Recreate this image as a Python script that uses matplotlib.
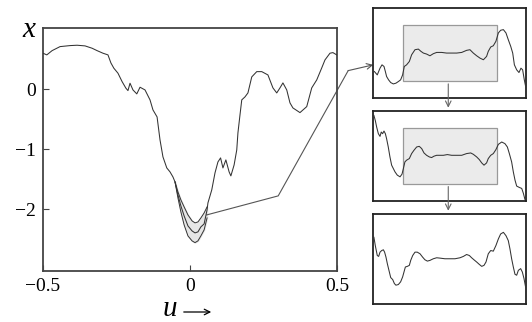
import numpy as np
import matplotlib.pyplot as plt
from matplotlib.patches import Rectangle

plt.rcParams['font.family'] = ['Liberation Serif', 'DejaVu Serif']
plt.rcParams['mathtext.fontset'] = 'stix'

# 主曲线 (u, x)
u_main = [-0.500, -0.487, -0.469, -0.442, -0.408, -0.384, -0.357, -0.333, -0.316, -0.296,
          -0.279, -0.269, -0.259, -0.245, -0.231, -0.218, -0.211, -0.204, -0.194, -0.181,
          -0.170, -0.153, -0.136, -0.126, -0.112, -0.102, -0.092, -0.079, -0.068, -0.058,
          -0.051, -0.041, -0.031, -0.020, -0.007, 0.007, 0.017, 0.027, 0.037, 0.048, 0.058,
          0.061, 0.074, 0.085, 0.095, 0.104, 0.112, 0.122, 0.133, 0.139, 0.150,
          0.159, 0.163, 0.170, 0.176, 0.187, 0.197, 0.210, 0.227, 0.244, 0.265,
          0.282, 0.295, 0.306, 0.316, 0.329, 0.340, 0.350, 0.374, 0.397, 0.414,
          0.431, 0.448, 0.459, 0.476, 0.486, 0.499]
x_main = [0.600, 0.572, 0.643, 0.710, 0.727, 0.733, 0.722, 0.683, 0.643, 0.600,
          0.572, 0.438, 0.350, 0.267, 0.127, 0.017, -0.023, 0.100, -0.012, -0.078,
          0.033, -0.012, -0.178, -0.345, -0.462, -0.845, -1.128, -1.312, -1.378, -1.462,
          -1.545, -1.762, -1.945, -2.112, -2.278, -2.362, -2.395, -2.378, -2.295, -2.245, -2.012,
          -1.895, -1.678, -1.395, -1.212, -1.145, -1.312, -1.178, -1.378, -1.445, -1.262,
          -1.012, -0.728, -0.428, -0.178, -0.128, -0.062, 0.205, 0.293, 0.293, 0.238,
          0.022, -0.062, 0.022, 0.105, -0.012, -0.228, -0.312, -0.390, -0.290, 0.022,
          0.155, 0.355, 0.488, 0.600, 0.610, 0.572]

# 极小值附近的阴影带
u_band = [-0.051, -0.041, -0.031, -0.020, -0.007, 0.007, 0.017, 0.027, 0.037, 0.048, 0.058]
band_hi = [-1.545, -1.712, -1.845, -1.962, -2.095, -2.195, -2.228, -2.212, -2.145, -2.062, -1.962]
band_lo = [-1.545, -1.812, -2.045, -2.262, -2.445, -2.528, -2.557, -2.528, -2.445, -2.345, -2.145]

# 三个放大图 (归一化坐标)
s1 = [0.007, 0.026, 0.044, 0.057, 0.070, 0.079, 0.087, 0.100, 0.114, 0.131, 0.148, 0.164,
      0.179, 0.192, 0.203, 0.218, 0.236, 0.251, 0.273, 0.295, 0.312, 0.328, 0.349, 0.371,
      0.393, 0.415, 0.448, 0.480, 0.513, 0.546, 0.579, 0.611, 0.633, 0.655, 0.677, 0.699,
      0.721, 0.742, 0.753, 0.769, 0.786, 0.803, 0.819, 0.834, 0.852, 0.869, 0.884, 0.900,
      0.913, 0.924, 0.939, 0.954, 0.967, 0.978, 0.989, 1.000]
v1 = [0.296, 0.259, 0.333, 0.370, 0.352, 0.296, 0.241, 0.204, 0.174, 0.159, 0.167, 0.185,
      0.204, 0.259, 0.352, 0.370, 0.407, 0.481, 0.537, 0.544, 0.519, 0.500, 0.489, 0.470,
      0.493, 0.507, 0.507, 0.500, 0.500, 0.500, 0.507, 0.530, 0.537, 0.500, 0.470, 0.444,
      0.426, 0.463, 0.519, 0.567, 0.581, 0.630, 0.722, 0.752, 0.759, 0.722, 0.648, 0.574,
      0.500, 0.370, 0.315, 0.285, 0.333, 0.315, 0.204, 0.111]

s2 = [0.004, 0.013, 0.022, 0.033, 0.044, 0.052, 0.061, 0.070, 0.079, 0.087, 0.098, 0.109,
      0.120, 0.131, 0.142, 0.157, 0.175, 0.188, 0.197, 0.207, 0.218, 0.236, 0.251, 0.266,
      0.284, 0.301, 0.317, 0.332, 0.349, 0.367, 0.382, 0.397, 0.415, 0.437, 0.459, 0.485,
      0.513, 0.546, 0.579, 0.611, 0.638, 0.655, 0.677, 0.694, 0.710, 0.725, 0.742, 0.753,
      0.769, 0.786, 0.803, 0.819, 0.841, 0.862, 0.878, 0.891, 0.906, 0.917, 0.928, 0.939,
      0.956, 0.972, 0.983, 0.993]
v2 = [0.945, 0.890, 0.817, 0.744, 0.714, 0.762, 0.744, 0.773, 0.744, 0.689, 0.597, 0.487,
      0.396, 0.359, 0.322, 0.286, 0.267, 0.297, 0.359, 0.432, 0.451, 0.469, 0.524, 0.560,
      0.597, 0.604, 0.579, 0.531, 0.505, 0.487, 0.480, 0.495, 0.505, 0.505, 0.505, 0.513,
      0.505, 0.505, 0.505, 0.524, 0.531, 0.516, 0.487, 0.458, 0.421, 0.396, 0.421, 0.469,
      0.505, 0.524, 0.568, 0.626, 0.652, 0.634, 0.597, 0.524, 0.432, 0.322, 0.231, 0.165,
      0.150, 0.139, 0.084, 0.018]

s3 = [0.004, 0.013, 0.026, 0.035, 0.044, 0.055, 0.066, 0.074, 0.083, 0.092, 0.105, 0.114,
      0.127, 0.138, 0.148, 0.164, 0.179, 0.192, 0.201, 0.210, 0.223, 0.236, 0.245, 0.258,
      0.273, 0.288, 0.306, 0.323, 0.338, 0.354, 0.371, 0.393, 0.415, 0.437, 0.469, 0.502,
      0.535, 0.568, 0.590, 0.611, 0.629, 0.644, 0.659, 0.677, 0.694, 0.710, 0.725, 0.738,
      0.753, 0.769, 0.786, 0.803, 0.819, 0.834, 0.852, 0.869, 0.884, 0.895, 0.906, 0.917,
      0.928, 0.939, 0.950, 0.965, 0.976, 0.987, 0.998]
v3 = [0.737, 0.646, 0.536, 0.526, 0.573, 0.591, 0.599, 0.573, 0.518, 0.445, 0.354, 0.292,
      0.270, 0.226, 0.208, 0.215, 0.245, 0.299, 0.354, 0.409, 0.416, 0.427, 0.482, 0.536,
      0.573, 0.573, 0.555, 0.518, 0.489, 0.474, 0.482, 0.500, 0.511, 0.507, 0.500, 0.500,
      0.500, 0.511, 0.526, 0.547, 0.536, 0.511, 0.489, 0.464, 0.438, 0.416, 0.427, 0.464,
      0.555, 0.591, 0.584, 0.646, 0.719, 0.774, 0.792, 0.755, 0.701, 0.609, 0.500, 0.409,
      0.328, 0.318, 0.372, 0.391, 0.354, 0.281, 0.182]

x_ticks = [-0.5, 0, 0.5]
x_ticklabels = ['−0.5', '0', '0.5']
y_ticks = [0, -1, -2]
y_ticklabels = ['0', '−1', '−2']

line_c = '#333333'
frame_c = '#444444'

fig = plt.figure(figsize=(5.32, 3.22), dpi=100)

# 主图
ax = fig.add_axes([0.0808, 0.1584, 0.5527, 0.7546])
ax.fill_between(u_band, band_lo, band_hi, color='#e6e6e6', zorder=1)
ax.plot(u_band, band_hi, color=line_c, lw=0.7, zorder=2)
ax.plot(u_band, band_lo, color=line_c, lw=0.7, zorder=2)
ax.plot(u_main, x_main, color=line_c, lw=0.75, zorder=3)
ax.set_xlim(-0.5, 0.5)
ax.set_ylim(-3.03, 1.02)
ax.set_xticks(x_ticks)
ax.set_xticklabels(x_ticklabels)
ax.set_yticks(y_ticks)
ax.set_yticklabels(y_ticklabels)
ax.tick_params(direction='in', length=4, width=0.8, color=frame_c, labelsize=14, pad=5)
for sp in ax.spines.values():
    sp.set_color(frame_c)
    sp.set_linewidth(1.3)

fig.text(29 / 532, 1 - 30 / 322, 'x', fontsize=21, style='italic', ha='center', va='center')
fig.text(170 / 532, 1 - 309 / 322, 'u', fontsize=21, style='italic', ha='center', va='center')
ax.annotate('', xy=(214 / 532, 1 - 312 / 322), xycoords='figure fraction',
            xytext=(181 / 532, 1 - 312 / 322), textcoords='figure fraction',
            arrowprops=dict(arrowstyle='->', color='black', lw=0.9))

# 三个放大图
insets = []
for bottom, (s, v) in zip([0.6947, 0.3758, 0.0559], [(s1, v1), (s2, v2), (s3, v3)]):
    a = fig.add_axes([0.7017, bottom, 0.287, 0.2810])
    a.plot(s, v, color=line_c, lw=0.75, zorder=3)
    a.set_xlim(0, 1)
    a.set_ylim(0, 1)
    a.set_xticks([])
    a.set_yticks([])
    for sp in a.spines.values():
        sp.set_color('#222222')
        sp.set_linewidth(1.3)
    insets.append(a)

# 灰色方框和箭头
for i in range(2):
    a = insets[i]
    a.add_patch(Rectangle((0.192, 0.19), 0.62, 0.62, facecolor='#ebebeb',
                          edgecolor='#999999', lw=0.9, zorder=1))
    a.annotate('', xy=(0.491, 1.0), xycoords=insets[i + 1].transAxes,
               xytext=(0.491, 0.19), textcoords=a.transAxes,
               arrowprops=dict(arrowstyle='->', color='#666666', lw=0.8))

# 从极小值连到第一个放大图的折线
ax.plot([0.057, 0.300, 0.538], [-2.095, -1.778, 0.31], color='#555555', lw=0.8, clip_on=False)
ax.annotate('', xy=(0.0, 0.37), xycoords=insets[0].transAxes,
            xytext=(0.538, 0.31), textcoords='data',
            arrowprops=dict(arrowstyle='->', color='#555555', lw=0.8,
                            shrinkA=0, shrinkB=0))

fig.savefig('out.png', dpi=100)
